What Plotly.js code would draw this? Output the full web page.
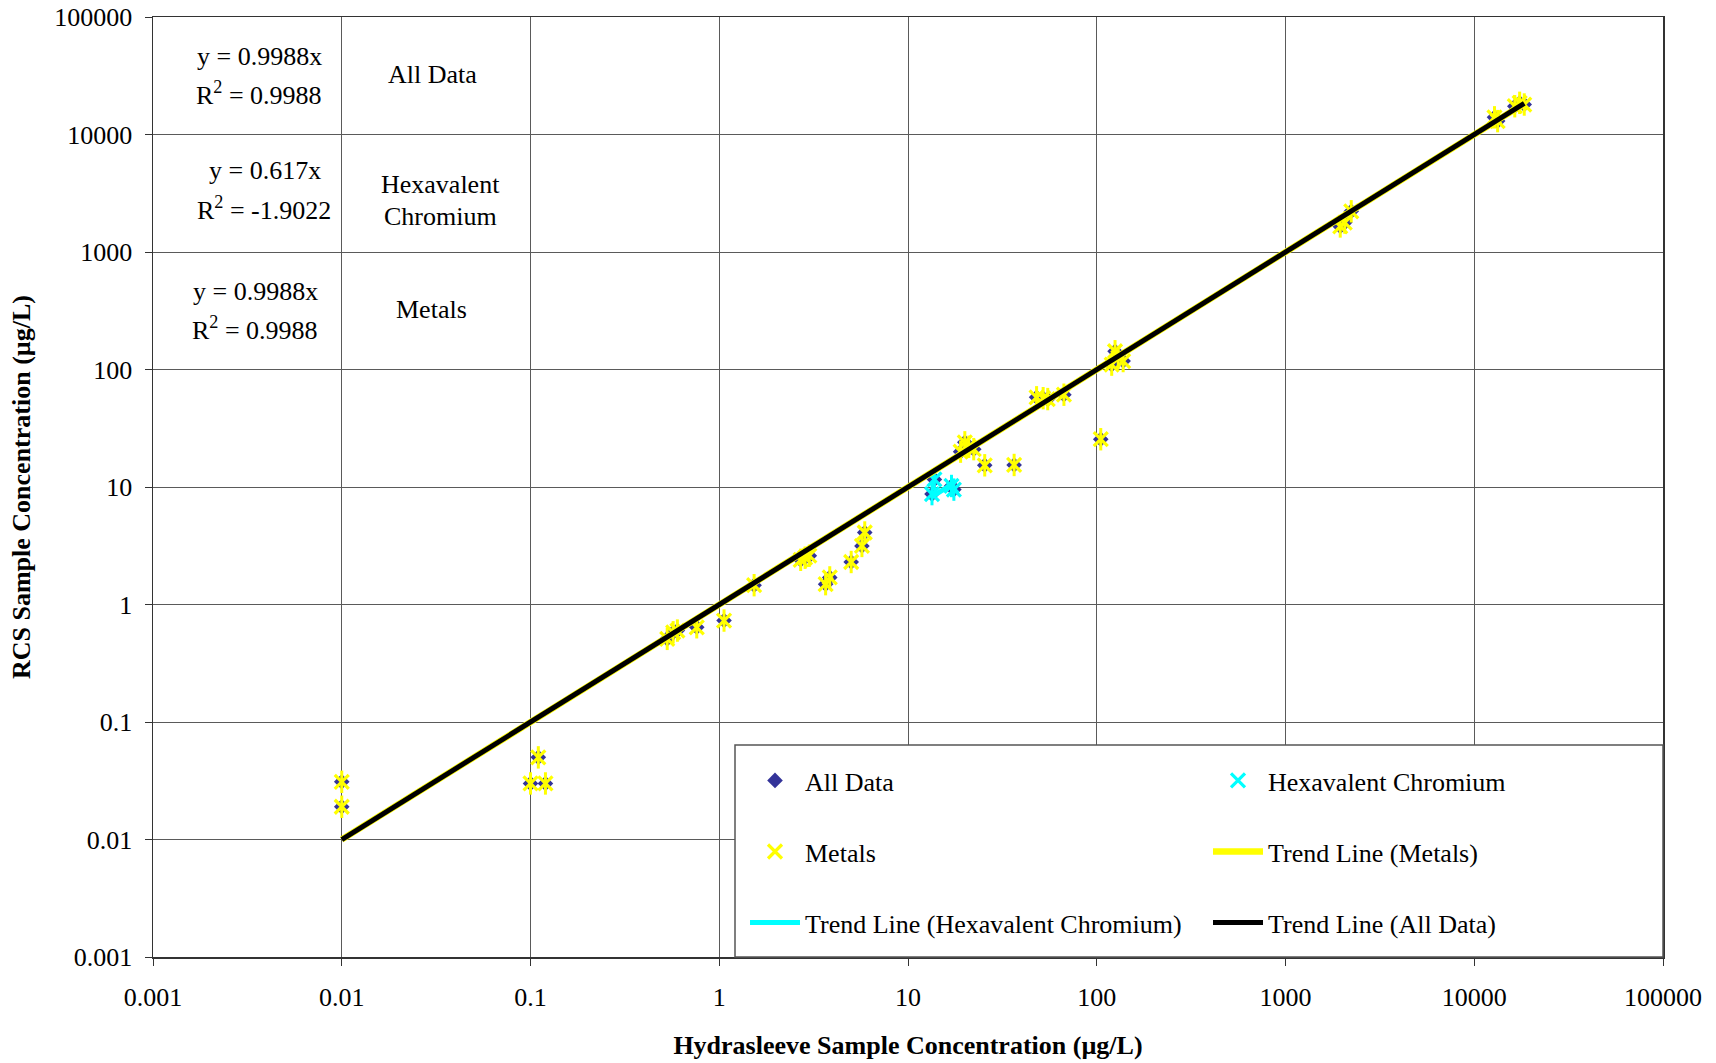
<!DOCTYPE html>
<html><head><meta charset="utf-8">
<script src="https://cdn.plot.ly/plotly-3.0.1.min.js"></script>
<style>html,body{margin:0;padding:0;background:#fff}</style>
</head><body>
<div id="chart" style="width:1716px;height:1063px"></div>
<script>
// Hydrasleeve (x) vs RCS (y) concentrations, µg/L
const metalsX = [0.01, 0.01, 0.11, 0.10, 0.12,
  0.53, 0.57, 0.60, 0.76, 1.06, 1.53,
  2.7, 2.85, 3.0, 3.66, 3.85, 5.0, 5.7, 5.9,
  19, 20, 21, 22.3, 25.5, 36.5,
  48, 52, 55, 67, 105,
  120, 125, 130, 138,
  1950, 2060, 2230,
  12800, 13300, 16400, 17400, 18400];
const metalsY = [0.031, 0.019, 0.05, 0.03, 0.03,
  0.51, 0.58, 0.60, 0.64, 0.73, 1.46,
  2.4, 2.5, 2.6, 1.49, 1.7, 2.3, 3.15, 4.1,
  20, 24, 22, 21, 15.3, 15.4,
  58, 57, 56, 61, 25.5,
  110, 143, 126, 118,
  1650, 1780, 2220,
  14000, 13000, 17400, 18600, 18000];
const hexX = [13.8, 13.4, 17.5, 17.0];
const hexY = [11.6, 8.7, 9.5, 10.2];
const allX = metalsX.concat(hexX);
const allY = metalsY.concat(hexY);

const slopeAll = 0.9988, r2All = '0.9988';
const slopeHex = 0.617, r2Hex = '-1.9022';
const slopeMetals = 0.9988, r2Metals = '0.9988';

const tickVals = [0.001, 0.01, 0.1, 1, 10, 100, 1000, 10000, 100000];
const tickText = ['0.001', '0.01', '0.1', '1', '10', '100', '1000', '10000', '100000'];

function trend(xs, k) {
  const lo = Math.min.apply(null, xs), hi = Math.max.apply(null, xs);
  return {x: [lo, hi], y: [k * lo, k * hi]};
}
const tAll = trend(allX, slopeAll);
const tMet = trend(metalsX, slopeMetals);
const tHex = trend(hexX, slopeHex);

const FONT = 'Liberation Serif, Times New Roman, serif';
const BLUE = '#333399', YEL = '#FFFF00', CYAN = '#00FFFF';

const traces = [
  {x: allX, y: allY, mode: 'markers', name: 'All Data', legend: 'legend', legendgroup: 'a', legendrank: 1,
   marker: {symbol: 'diamond', size: 12, color: BLUE}},
  {x: hexX, y: hexY, mode: 'markers', name: 'Hexavalent Chromium', legend: 'legend2', legendgroup: 'b', legendrank: 1,
   marker: {symbol: 'x-thin-open', size: 14, color: CYAN, line: {width: 3.2}}},
  {x: hexX, y: hexY, mode: 'markers', showlegend: false, hoverinfo: 'skip',
   marker: {symbol: 'line-ns-open', size: 16, color: CYAN, line: {width: 3}}},
  {x: metalsX, y: metalsY, mode: 'markers', name: 'Metals', legend: 'legend', legendgroup: 'c', legendrank: 2,
   marker: {symbol: 'x-thin-open', size: 14, color: YEL, line: {width: 3.2}}},
  {x: metalsX, y: metalsY, mode: 'markers', showlegend: false, hoverinfo: 'skip',
   marker: {symbol: 'line-ns-open', size: 16, color: YEL, line: {width: 3}}},
  {x: tMet.x, y: tMet.y, mode: 'lines', name: 'Trend Line (Metals)', legend: 'legend2', legendgroup: 'd', legendrank: 2,
   line: {color: YEL, width: 6.5}},
  {x: tHex.x, y: tHex.y, mode: 'lines', name: 'Trend Line (Hexavalent Chromium)', legend: 'legend', legendgroup: 'e', legendrank: 3,
   line: {color: CYAN, width: 5}},
  {x: tAll.x, y: tAll.y, mode: 'lines', name: 'Trend Line (All Data)', legend: 'legend2', legendgroup: 'f', legendrank: 3,
   line: {color: '#000000', width: 5}}
];

const L = 153, R = 1663, T = 17, B = 957;
const px = v => (v - L) / (R - L);
const py = v => (B - v) / (B - T);

function ann(text, x, y) {
  return {text: text, xref: 'paper', yref: 'paper', x: px(x), y: py(y), xanchor: 'center', yanchor: 'middle',
          showarrow: false, font: {family: FONT, size: 26, color: '#000'}};
}
const annotations = [
  ann('y = ' + slopeAll + 'x', 259, 56),
  ann('R<sup>2</sup> = ' + r2All, 259, 93),
  ann('All Data', 432, 74),
  ann('y = ' + slopeHex + 'x', 265, 171),
  ann('R<sup>2</sup> = ' + r2Hex, 264, 208),
  ann('Hexavalent', 440, 184),
  ann('Chromium', 440, 217),
  ann('y = ' + slopeMetals + 'x', 255, 291),
  ann('R<sup>2</sup> = ' + r2Metals, 255, 328),
  ann('Metals', 431, 309)
];

const axisCommon = {
  type: 'log', range: [-3, 5], tickmode: 'array', tickvals: tickVals, ticktext: tickText,
  showgrid: true, gridcolor: '#5a5a5a', gridwidth: 1,
  showline: true, linecolor: '#333', linewidth: 1.5, mirror: true,
  ticks: 'outside', ticklen: 7, tickcolor: '#333', tickwidth: 1,
  tickfont: {family: FONT, size: 26, color: '#000'},
  zeroline: false, automargin: false
};

const legendCommon = {
  orientation: 'v', xanchor: 'left', yanchor: 'top', bgcolor: 'rgba(0,0,0,0)', borderwidth: 0,
  font: {family: FONT, size: 26, color: '#000'}, itemwidth: 50, tracegroupgap: 34.3,
  traceorder: 'grouped', itemsizing: 'trace'
};

const layout = {
  width: 1716, height: 1063,
  margin: {l: L, r: 1716 - R, t: T, b: 1063 - B},
  paper_bgcolor: '#fff', plot_bgcolor: '#fff',
  font: {family: FONT, size: 26, color: '#000'},
  xaxis: Object.assign({}, axisCommon, {
    ticklabelstandoff: 9,
    title: {text: '<b>Hydrasleeve Sample Concentration (µg/L)</b>', font: {family: FONT, size: 26, color: '#000'}, standoff: 25}
  }),
  yaxis: Object.assign({}, axisCommon, {
    ticklabelstandoff: 7,
    title: {text: '<b>RCS Sample Concentration (µg/L)</b>', font: {family: FONT, size: 26, color: '#000'}, standoff: 16}
  }),
  legend: Object.assign({}, legendCommon, {x: px(745), y: py(757)}),
  legend2: Object.assign({}, legendCommon, {x: px(1208), y: py(757)}),
  shapes: [{type: 'rect', xref: 'paper', yref: 'paper', x0: px(735), x1: 1, y0: 0, y1: py(745),
            fillcolor: '#ffffff', line: {color: '#555', width: 1.5}, layer: 'above'}],
  annotations: annotations,
  showlegend: true
};

Plotly.newPlot('chart', traces, layout, {displayModeBar: false, staticPlot: true});
</script>
</body></html>
